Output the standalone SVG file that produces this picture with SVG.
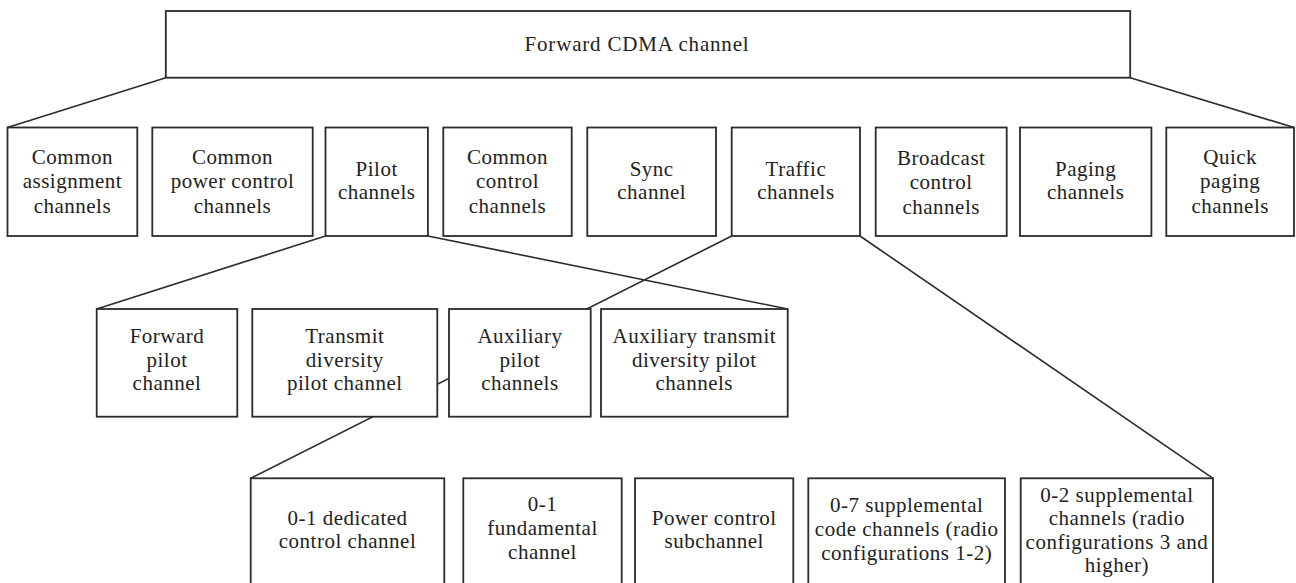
<svg xmlns="http://www.w3.org/2000/svg" width="1296" height="583" viewBox="0 0 1296 583">
  <style>
    .box { fill: #ffffff; stroke: #2b2b2b; stroke-width: 1.8; }
    .wire { fill: none; stroke: #2b2b2b; stroke-width: 1.6; }
    text { font-family: "Liberation Serif", "Times New Roman", serif; font-size: 21px; letter-spacing: 0.5px; fill: #222222; text-anchor: middle; }
    .title { letter-spacing: 0.8px; }
  </style>
  <rect x="0" y="0" width="1296" height="583" fill="#ffffff"/>

  <!-- connectors drawn first so the white boxes sit on top of them -->
  <g id="connectors">
    <line class="wire" x1="165.8" y1="77.7" x2="7.5" y2="127.5"/>
    <line class="wire" x1="1130.2" y1="77.7" x2="1294" y2="127.5"/>
    <line class="wire" x1="325.5" y1="236" x2="96.7" y2="309"/>
    <line class="wire" x1="427.9" y1="236" x2="787.7" y2="309"/>
    <line class="wire" x1="731.7" y1="236" x2="250.7" y2="478.3"/>
    <line class="wire" x1="860" y1="236" x2="1213" y2="478.3"/>
  </g>

  <!-- root -->
  <g id="forward-cdma">
    <rect class="box" x="165.8" y="11" width="964.4" height="66.7"/>
    <text class="title" x="637" y="50.5">Forward CDMA channel</text>
  </g>

  <!-- first level -->
  <g id="common-assignment">
    <rect class="box" x="7.5" y="127.5" width="129.8" height="108.5"/>
    <text x="72.4" y="163.5"><tspan x="72.4">Common</tspan><tspan x="72.4" dy="24.5">assignment</tspan><tspan x="72.4" dy="24.5">channels</tspan></text>
  </g>
  <g id="common-power-control">
    <rect class="box" x="152.3" y="127.5" width="160.4" height="108.5"/>
    <text x="232.5" y="163.5"><tspan x="232.5">Common</tspan><tspan x="232.5" dy="24.5">power control</tspan><tspan x="232.5" dy="24.5">channels</tspan></text>
  </g>
  <g id="pilot">
    <rect class="box" x="325.5" y="127.5" width="102.4" height="108.5"/>
    <text x="376.7" y="175.5"><tspan x="376.7">Pilot</tspan><tspan x="376.7" dy="23.5">channels</tspan></text>
  </g>
  <g id="common-control">
    <rect class="box" x="443.3" y="127.5" width="128.4" height="108.5"/>
    <text x="507.5" y="163.5"><tspan x="507.5">Common</tspan><tspan x="507.5" dy="24.5">control</tspan><tspan x="507.5" dy="24.5">channels</tspan></text>
  </g>
  <g id="sync">
    <rect class="box" x="587.3" y="127.5" width="128.7" height="108.5"/>
    <text x="651.7" y="175.5"><tspan x="651.7">Sync</tspan><tspan x="651.7" dy="23.5">channel</tspan></text>
  </g>
  <g id="traffic">
    <rect class="box" x="731.7" y="127.5" width="128.3" height="108.5"/>
    <text x="795.9" y="175.5"><tspan x="795.9">Traffic</tspan><tspan x="795.9" dy="23.5">channels</tspan></text>
  </g>
  <g id="broadcast-control">
    <rect class="box" x="875.7" y="127.5" width="131" height="108.5"/>
    <text x="941.2" y="164.5"><tspan x="941.2">Broadcast</tspan><tspan x="941.2" dy="24.5">control</tspan><tspan x="941.2" dy="24.5">channels</tspan></text>
  </g>
  <g id="paging">
    <rect class="box" x="1020" y="127.5" width="131.4" height="108.5"/>
    <text x="1085.7" y="175.5"><tspan x="1085.7">Paging</tspan><tspan x="1085.7" dy="23.5">channels</tspan></text>
  </g>
  <g id="quick-paging">
    <rect class="box" x="1166.3" y="127.5" width="127.7" height="108.5"/>
    <text x="1230.2" y="163.5"><tspan x="1230.2">Quick</tspan><tspan x="1230.2" dy="24.5">paging</tspan><tspan x="1230.2" dy="24.5">channels</tspan></text>
  </g>

  <!-- pilot sub-channels -->
  <g id="forward-pilot">
    <rect class="box" x="96.7" y="309" width="140.6" height="107.7"/>
    <text x="167" y="343.3"><tspan x="167">Forward</tspan><tspan x="167" dy="23.5">pilot</tspan><tspan x="167" dy="23.5">channel</tspan></text>
  </g>
  <g id="transmit-diversity-pilot">
    <rect class="box" x="252.3" y="309" width="185" height="107.7"/>
    <text x="344.8" y="343.3"><tspan x="344.8">Transmit</tspan><tspan x="344.8" dy="23.5">diversity</tspan><tspan x="344.8" dy="23.5">pilot channel</tspan></text>
  </g>
  <g id="auxiliary-pilot">
    <rect class="box" x="449" y="309" width="141.7" height="107.7"/>
    <text x="519.9" y="343.3"><tspan x="519.9">Auxiliary</tspan><tspan x="519.9" dy="23.5">pilot</tspan><tspan x="519.9" dy="23.5">channels</tspan></text>
  </g>
  <g id="auxiliary-transmit-diversity-pilot">
    <rect class="box" x="601" y="309" width="186.7" height="107.7"/>
    <text x="694.3" y="343.3"><tspan x="694.3">Auxiliary transmit</tspan><tspan x="694.3" dy="23.5">diversity pilot</tspan><tspan x="694.3" dy="23.5">channels</tspan></text>
  </g>

  <!-- traffic sub-channels -->
  <g id="dedicated-control">
    <rect class="box" x="250.7" y="478.3" width="193.6" height="130"/>
    <text x="347.5" y="524.5"><tspan x="347.5">0-1 dedicated</tspan><tspan x="347.5" dy="23.5">control channel</tspan></text>
  </g>
  <g id="fundamental">
    <rect class="box" x="463.3" y="478.3" width="158.4" height="130"/>
    <text x="542.5" y="511"><tspan x="542.5">0-1</tspan><tspan x="542.5" dy="24">fundamental</tspan><tspan x="542.5" dy="24">channel</tspan></text>
  </g>
  <g id="power-control-sub">
    <rect class="box" x="635" y="478.3" width="158.3" height="130"/>
    <text x="714.2" y="524.5"><tspan x="714.2">Power control</tspan><tspan x="714.2" dy="23.5">subchannel</tspan></text>
  </g>
  <g id="supplemental-code">
    <rect class="box" x="808.3" y="478.3" width="196.7" height="130"/>
    <text x="906.7" y="512"><tspan x="906.7">0-7 supplemental</tspan><tspan x="906.7" dy="24">code channels (radio</tspan><tspan x="906.7" dy="24">configurations 1-2)</tspan></text>
  </g>
  <g id="supplemental">
    <rect class="box" x="1020.7" y="478.3" width="192.3" height="130"/>
    <text x="1116.9" y="501.5"><tspan x="1116.9">0-2 supplemental</tspan><tspan x="1116.9" dy="23.5">channels (radio</tspan><tspan x="1116.9" dy="23.5">configurations 3 and</tspan><tspan x="1116.9" dy="23.5">higher)</tspan></text>
  </g>
</svg>
